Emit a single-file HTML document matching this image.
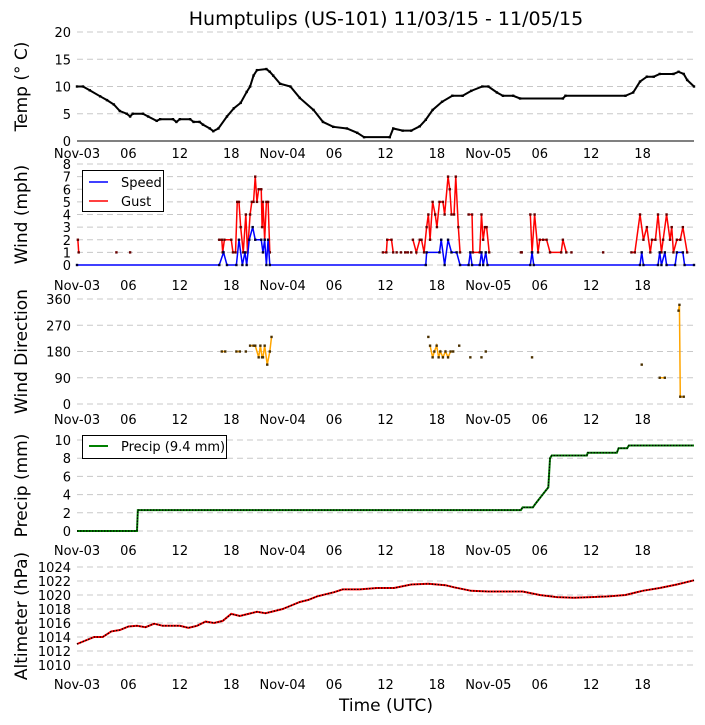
<!DOCTYPE html>
<html><head><meta charset="utf-8"><style>
body{margin:0;background:#fff}
svg{display:block;font-family:"DejaVu Sans","Liberation Sans",sans-serif}
</style></head><body>
<svg id="c" width="705" height="725" viewBox="0 0 705 725"></svg>
<script>
const xTickLabels=["Nov-03","06","12","18","Nov-04","06","12","18","Nov-05","06","12","18"];
const tempHours=[0,0.7,1.5,2.7,3.5,4.3,5,5.8,6.2,6.5,7.7,8.3,9.3,9.7,11.2,11.6,12,13.2,13.6,14.3,14.7,15.5,15.9,16.5,17.5,18.3,19.1,19.8,20.2,20.6,21,22.1,22.5,22.9,23.7,24.9,26,27.6,28.7,29.9,31.5,32.7,33.5,36.5,36.9,38,39,40,40.7,41.5,42.6,43.8,45,46,47.3,48,49,49.7,50.9,51.7,56.7,57,64,64.9,65.7,66.5,67.3,68,69.6,70.2,70.8,71.2,72];
const tempVals=[10,10,9.3,8.2,7.5,6.7,5.5,5,4.5,5,5,4.5,3.7,4,4,3.5,4,4,3.5,3.5,3,2.3,1.8,2.3,4.5,6,7,9,10,12,13,13.2,12.7,12,10.5,10,7.9,5.7,3.5,2.6,2.3,1.5,0.7,0.7,2.3,1.9,1.9,2.7,3.9,5.7,7.2,8.3,8.3,9.2,10,10,8.9,8.3,8.3,7.8,7.8,8.3,8.3,8.9,10.9,11.8,11.8,12.3,12.3,12.7,12.3,11.2,10];
const speedHours=[0,16.6,17.1,17.5,18.6,18.9,19.3,19.6,19.8,20.1,20.5,20.8,21.5,21.7,21.9,22.1,22.3,22.5,40.7,40.8,42.3,42.5,42.9,43.3,43.7,44.3,44.7,45.7,45.9,46.1,47.0,47.2,47.4,47.7,47.9,52.9,53.1,53.3,65.7,65.9,66.1,67.8,68.0,68.2,68.6,68.8,69.8,70.0,70.7,70.9,72];
const speedVals=[0,0,1,0,0,2,0,1,0,2,3,2,2,1,2,0,2,0,0,1,1,2,0,2,1,1,0,0,1,0,0,1,0,1,0,0,1,0,0,1,0,0,1,0,1,0,0,1,1,0,0];
const gustHours=[0.1,0.2,null,4.6,null,6.2,null,16.6,16.9,17,17.2,18,18.2,18.5,18.7,18.9,19.1,19.4,19.7,19.9,20.2,20.4,20.6,20.8,21,21.2,21.5,21.6,21.7,21.9,22.1,22.3,22.5,null,35.7,36.1,36.2,36.7,36.9,null,37.3,null,37.8,null,38.3,38.6,null,39.0,null,39.2,39.6,40.0,40.2,40.5,40.8,41.0,41.2,41.5,41.8,42.0,42.3,42.7,42.9,43.3,43.5,43.7,44.0,44.2,44.5,44.7,null,45.7,46.1,46.2,47.0,47.2,47.4,47.6,47.8,48.1,null,51.8,51.9,null,52.9,53.1,53.4,53.8,54.0,54.4,54.8,55.2,56.5,56.7,57.1,null,57.7,null,61.4,null,64.7,65.1,65.7,66.1,66.5,66.9,67.1,67.5,67.8,68.2,68.4,68.8,69.2,69.4,69.6,70.0,70.4,70.7,71.2];
const gustVals=[2,1,null,1,null,1,null,2,2,1,2,2,1,1,5,5,3,1,4,1,4,5,5,7,5,6,6,3,5,2,5,5,1,null,1,1,2,2,1,null,1,null,1,null,1,1,null,1,null,2,1,2,2,1,3,4,2,5,4,3,5,5,4,7,6,4,4,7,3,1,null,4,4,1,1,4,2,3,3,1,null,1,1,null,4,1,4,1,2,2,2,1,1,2,1,null,1,null,1,null,1,1,4,2,3,1,2,2,4,1,2,4,2,3,1,2,2,3,1];
const dirHours=[16.9,17.3,null,18.6,19.0,null,19.7,null,20.2,20.6,20.8,21.2,21.4,21.6,21.7,21.9,22.2,22.5,22.7,null,41.0,null,41.2,41.5,41.7,41.97,42.2,42.4,42.7,43.0,43.3,43.6,43.9,null,44.6,null,45.9,null,47.2,null,47.7,null,53.1,null,65.9,null,68.0,68.6,null,70.2,70.3,70.4,70.8];
const dirVals=[180,180,null,180,180,null,180,null,200,200,200,160,200,160,160,200,135,180,230,null,230,null,200,160,180,200,160,180,160,180,160,180,180,null,200,null,160,null,160,null,180,null,160,null,135,null,90,90,null,320,340,25,25];
const precipHours=[0,7,7.1,51.8,52,53.2,53.5,54,54.5,55,55.2,55.4,59.5,59.6,63,63.2,64.2,64.4,72];
const precipVals=[0,0,2.3,2.3,2.6,2.6,3,3.6,4.2,4.8,8,8.3,8.3,8.6,8.6,9.1,9.1,9.4,9.4];
const altHours=[0,1,2,3,4,5,6,7,8,9,10,12,13,14,15,16,17,18,19,20,21,22,23,24,25,26,27,28,30,31,33,35,37,39,41,43,44,46,48,52,54,56,58,60,62,64,66,68,70,72];
const altVals=[1013,1013.5,1014,1014,1014.8,1015,1015.5,1015.6,1015.4,1015.9,1015.6,1015.6,1015.3,1015.6,1016.2,1016,1016.3,1017.3,1017,1017.3,1017.6,1017.4,1017.7,1018,1018.5,1019,1019.3,1019.8,1020.4,1020.8,1020.8,1021,1021,1021.5,1021.6,1021.4,1021.1,1020.6,1020.5,1020.5,1020,1019.7,1019.6,1019.7,1019.8,1020,1020.6,1021,1021.5,1022.1];

const NS="http://www.w3.org/2000/svg";
const svg=document.getElementById('c');
const X0=77,X1=694,H=72;
const xs=h=>X0+(X1-X0)*h/H;
function el(t,a,txt){const e=document.createElementNS(NS,t);for(const k in a)e.setAttribute(k,a[k]);if(txt!=null)e.textContent=txt;svg.appendChild(e);return e;}

function panel(name,title,ticks,vmin,vmax,yTop,yBot,xlabY){
  const ys=v=>yBot-(v-vmin)/(vmax-vmin)*(yBot-yTop);
  ticks.forEach(t=>{
    const g=el('line',{x1:X0,x2:X1,y1:ys(t),y2:ys(t),stroke:'#c8c8c8','stroke-dasharray':'6,4','stroke-width':1});
    
    
    const tl=el('text',{x:71,y:ys(t)+5,'text-anchor':'end','font-size':13},String(t));
    
    
  });
  xTickLabels.forEach((s,i)=>{
    const t=el('text',{x:xs(i*6),y:xlabY,'text-anchor':'middle','font-size':13},s);
    
    
  });
  const yc=(yTop+yBot)/2;
  const tt=el('text',{x:27,y:yc,'text-anchor':'middle','font-size':17,transform:`rotate(-90 27 ${yc})`},title);
  
  
  return ys;
}
function series(name,hs,vs,ys,color,w,mk){
  let segs=[],cur=[];
  for(let i=0;i<hs.length;i++){
    if(hs[i]==null||vs[i]==null){if(cur.length)segs.push(cur);cur=[];continue;}
    cur.push([xs(hs[i]),ys(vs[i])]);
  }
  if(cur.length)segs.push(cur);
  segs.forEach(s=>{
    if(s.length>1){
      const p=el('polyline',{points:s.map(q=>q.join(',')).join(' '),fill:'none',stroke:color,'stroke-width':w,'stroke-linejoin':'miter'});
      
      
    }
    s.forEach(q=>{
      const r=el('rect',{x:q[0]-1.2,y:q[1]-1.2,width:2.4,height:2.4,fill:mk});
      
      
    });
  });
}
function stepSeries(name,hs,vs,ys,color,w){
  const pts=hs.map((h,i)=>xs(h)+','+ys(vs[i])).join(' ');
  const p=el('polyline',{points:pts,fill:'none',stroke:color,'stroke-width':w});
  
  
  const d=el('polyline',{points:pts,fill:'none',stroke:'#000','stroke-width':1.3,'stroke-dasharray':'1.5,1.5'});
  
  
}

const t=el('text',{x:386,y:25,'text-anchor':'middle','font-size':19},'Humptulips (US-101) 11/03/15 - 11/05/15');



// Temp
const yT=panel('temp','Temp (° C)',[0,5,10,15,20],0,20,32,141,158);
const ax=el('line',{x1:X0,x2:X1,y1:yT(0),y2:yT(0),stroke:'#000','stroke-width':1});


series('temp',tempHours,tempVals,yT,'#000',2,'#000');

// Wind
const yW=panel('wind','Wind (mph)',[0,1,2,3,4,5,6,7,8],0,8,164,265,290);
series('wind-gust',gustHours,gustVals,yW,'#f00',1.5,'#600');
series('wind-speed',speedHours,speedVals,yW,'#00f',1.5,'#003');
const lg=el('rect',{x:82.5,y:170.5,width:81,height:41,fill:'#fff',stroke:'#000'});


const l1=el('line',{x1:89,x2:108,y1:182,y2:182,stroke:'#00f','stroke-width':1.5});


const l1t=el('text',{x:121,y:187,'font-size':13},'Speed');


const l2=el('line',{x1:89,x2:108,y1:201,y2:201,stroke:'#f00','stroke-width':1.5});


const l2t=el('text',{x:121,y:206,'font-size':13},'Gust');



// Wind direction
const yD=panel('wind-direction','Wind Direction',[0,90,180,270,360],0,360,299,404,424);
series('wind-direction',dirHours,dirVals,yD,'#ffa500',1.5,'#4a3000');

// Precip
const yP=panel('precip','Precip (mm)',[0,2,4,6,8,10],0,10,440,531,555);
stepSeries('precip',precipHours,precipVals,yP,'#008000',2);
const pl=el('rect',{x:82.5,y:435.5,width:144,height:23,fill:'#fff',stroke:'#000'});


const p1=el('line',{x1:89,x2:108,y1:446,y2:446,stroke:'#008000','stroke-width':2});


const p1t=el('text',{x:121,y:451,'font-size':13},'Precip (9.4 mm)');



// Altimeter
const yA=panel('altimeter','Altimeter (hPa)',[1010,1012,1014,1016,1018,1020,1022,1024],1010,1024,567,665,689);
stepSeries('altimeter',altHours,altVals,yA,'#f00',2);

const xt=el('text',{x:386,y:711,'text-anchor':'middle','font-size':17},'Time (UTC)');


</script>
</body></html>
